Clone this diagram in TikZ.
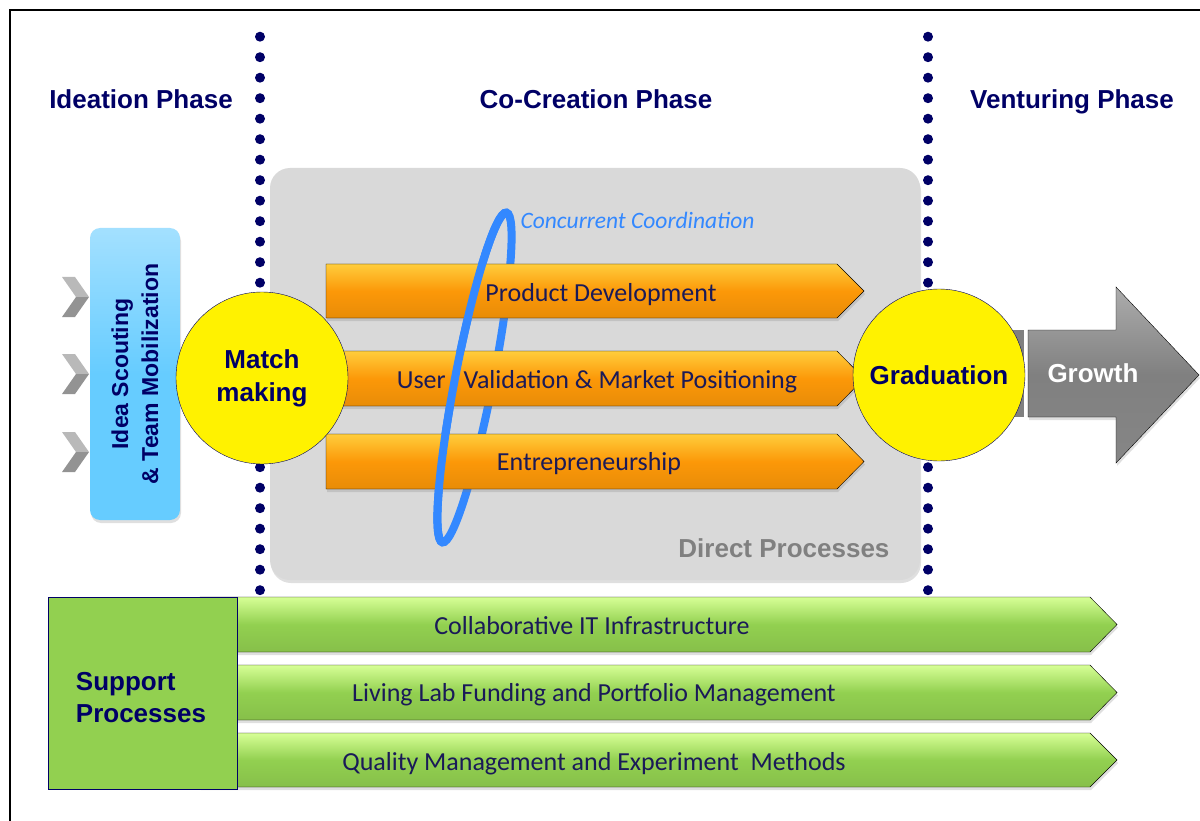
\documentclass[tikz,border=0pt]{standalone}
\usepackage{fontspec}
\setmainfont{Liberation Sans}
\newfontfamily\calibfont{Carlito}
\usetikzlibrary{shadows}
\definecolor{phasenavy}{RGB}{0,0,102}
\definecolor{labelnavy}{RGB}{26,26,88}
\definecolor{procorange}{RGB}{252,152,8}
\definecolor{orangetop}{RGB}{255,205,60}
\definecolor{supgreen}{RGB}{146,208,80}
\definecolor{greentop}{RGB}{215,255,150}
\definecolor{ideablue}{RGB}{102,204,255}
\definecolor{boxgrey}{RGB}{217,217,217}
\definecolor{loopblue}{RGB}{51,136,255}
\definecolor{growthgrey}{RGB}{128,128,128}
\begin{document}
\begin{tikzpicture}[x=1pt,y=-1pt,
	phase/.style={anchor=base,font=\bfseries\fontsize{26}{31}\selectfont,text=phasenavy},
	stage/.style={circle,draw=phasenavy,fill=yellow,minimum size=172pt,inner sep=0pt,align=center,
		font=\bfseries\fontsize{26}{33}\selectfont,text=phasenavy},
	proctext/.style={anchor=base,font=\calibfont\fontsize{26}{31}\selectfont,text=labelnavy},
	softshadow/.style={drop shadow={opacity=0.25,shadow xshift=1pt,shadow yshift=-3pt}},
	orangearrow/.style={top color=orangetop,bottom color=procorange!92!black,middle color=procorange,softshadow},
	greenarrow/.style={top color=greentop,bottom color=supgreen!92!black,middle color=supgreen,softshadow}]
		\useasboundingbox (0,0) rectangle (1200,821);
		\clip (0,0) rectangle (1200,821);
		\draw[line width=2pt] (10,10) rectangle (1230,850);
		% phase borders
		\foreach \yy in {0,...,27} {
			\fill[phasenavy] (260,36.7+20.5*\yy) circle [radius=5];
			\fill[phasenavy] (928,36.7+20.5*\yy) circle [radius=5];
		}
		\node (ideation) [phase] at (141,108.5) {Ideation Phase};
		\node (cocreation) [phase] at (596,108.5) {Co-Creation Phase};
		\node (venturing) [phase] at (1072,108.5) {Venturing Phase};
		% direct processes
		\fill[boxgrey,rounded corners=20pt,softshadow] (270,168) rectangle (920,580);
		\node (direct) [anchor=base east,font=\bfseries\fontsize{26}{31}\selectfont,text=growthgrey] at (893,557.5) {Direct Processes};
		% ideas coming in
		\foreach \cy in {297,374,452} {
			\fill[gray!55] (62,\cy-20) -- (75,\cy-20) -- (89,\cy) -- (76,\cy) -- cycle;
			\fill[gray!85] (76,\cy) -- (89,\cy) -- (75,\cy+20) -- (62,\cy+20) -- cycle;
		}
		\node (ideaBox) [rotate=90,minimum width=292pt,minimum height=90pt,rounded corners=10pt,
			top color=ideablue!60!white,bottom color=ideablue,middle color=ideablue,softshadow,
			align=center,font=\bfseries\fontsize{23}{30}\selectfont,text=phasenavy] at (135,374)
			{Idea Scouting\\\& Team Mobilization};
		% coordination loop, back half
		\draw[loopblue,line width=8pt,rotate around={79:(474.5,377.5)}] (474.5,377.5) ellipse [x radius=168,y radius=19];
		\draw[orangearrow] (326,264) -- (837,264) -- (864,291) -- (837,318) -- (326,318) -- cycle;
		\draw[orangearrow] (326,351) -- (837,351) -- (864,378.5) -- (837,406) -- (326,406) -- cycle;
		\draw[orangearrow] (326,434) -- (837,434) -- (864,461.5) -- (837,489) -- (326,489) -- cycle;
		\node (prodDev) [proctext] at (601,301.5) {Product Development};
		\node (userVal) [proctext] at (597,388.5) {User\hspace{18pt}Validation \& Market Positioning};
		\node (entre) [proctext] at (589,470.5) {Entrepreneurship};
		% coordination loop, front half
		\begin{scope}[shift={(474.5,377.5)},rotate=79]
			\draw[loopblue,line width=8pt] (168,0) arc [start angle=0,end angle=-180,x radius=168,y radius=19];
		\end{scope}
		\node (concurrent) [anchor=base,font=\calibfont\itshape\fontsize{23.5}{28}\selectfont,text=loopblue] at (637.5,228.5) {Concurrent Coordination};
		% venturing
		\fill[growthgrey] (995,330) rectangle (1024,417);
		\draw[top color=gray!65,bottom color=gray!95,middle color=growthgrey,softshadow]
			(1028,330) -- (1116,330) -- (1116,287) -- (1199,375) -- (1116,463) -- (1116,417) -- (1028,417) -- cycle;
		\node (growth) [anchor=base,font=\bfseries\fontsize{26}{31}\selectfont,text=white] at (1093,382.5) {Growth};
		\node (matchMaking) [stage] at (262,378) {Match\\making};
		\node (graduation) [stage] at (939,375) {Graduation};
		% support processes
		\draw[greenarrow] (200,597) -- (1090,597) -- (1117,624.5) -- (1090,652) -- (200,652) -- cycle;
		\draw[greenarrow] (200,665) -- (1090,665) -- (1117,692.5) -- (1090,720) -- (200,720) -- cycle;
		\draw[greenarrow] (200,733) -- (1090,733) -- (1117,760) -- (1090,787) -- (200,787) -- cycle;
		\node (itInfra) [proctext] at (592,634.5) {Collaborative IT Infrastructure};
		\node (funding) [proctext] at (594,701.5) {Living Lab Funding and Portfolio Management};
		\node (quality) [proctext] at (594,770.5) {Quality Management and Experiment\hspace{12pt}Methods};
		\node (supportBox) [draw=phasenavy,fill=supgreen,minimum width=189pt,minimum height=192pt] at (142.5,693) {};
		\node (supportText) [align=left,font=\bfseries\fontsize{26}{32}\selectfont,text=phasenavy] at (141,698) {Support\\Processes};
	\end{tikzpicture}
\end{document}
